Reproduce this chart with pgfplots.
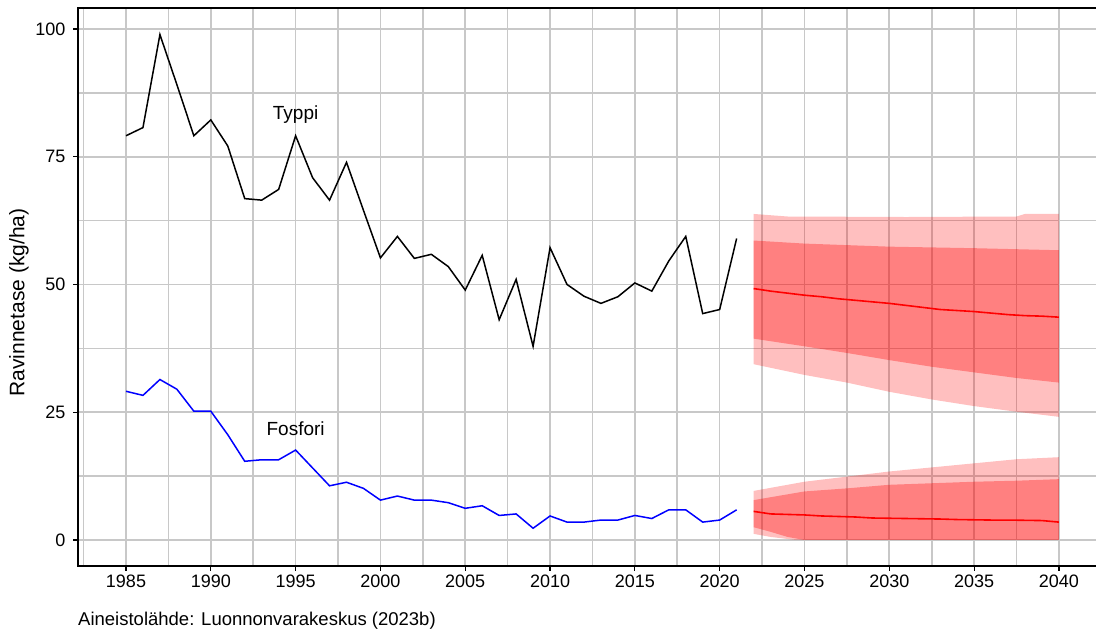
\documentclass[border=0pt]{standalone}
\usepackage{pgfplots}
\pgfplotsset{compat=1.18}
\usepackage{fontspec}
\setmainfont{Liberation Sans}
\definecolor{gridc}{RGB}{200,200,200}
\begin{document}
\begin{tikzpicture}[x=1pt,y=1pt]
\useasboundingbox (0,0) rectangle (1096,630);
\begin{axis}[
  at={(78pt,64pt)}, anchor=south west,
  width=1018pt, height=558pt, scale only axis,
  xmin=1982.17, xmax=2042.19, ymin=-5.09, ymax=104.1,
  axis line style={draw=none},
  xtick={1985,1990,...,2040}, ytick={0,25,50,75,100},
  minor xtick={1982.5,1987.5,...,2037.5}, minor ytick={12.5,37.5,62.5,87.5},
  grid=both,
  major grid style={gridc, line width=1.6pt},
  minor grid style={gridc, line width=1.6pt},
  tick align=outside, major tick length=5pt, minor tick length=0pt,
  xtick pos=bottom, ytick pos=left,
  tick style={black, line width=1.2pt},
  ticklabel style={font=\fontsize{18}{20}\selectfont},
  x tick label style={/pgf/number format/1000 sep={}},
  y tick label style={xshift=-4pt},
  /pgf/number format/assume math mode=true,
  clip=false,
]
% Typpi forecast bands
\addplot[draw=none, fill=red, fill opacity=0.25] coordinates {
 (2022,63.8) (2024,63.3) (2031,63.2) (2037.5,63.3) (2038,63.8) (2040,63.8)
 (2040,24.1) (2037.5,25.1) (2035,26.2) (2032.5,27.5) (2030,29.0) (2027.5,30.8) (2025,32.3) (2022,34.4)};
\addplot[draw=none, fill=red, fill opacity=0.33] coordinates {
 (2022,58.6) (2025,58.0) (2030,57.4) (2035,57.1) (2040,56.7)
 (2040,30.8) (2037.5,31.7) (2035,32.8) (2032.5,33.9) (2030,35.2) (2027.5,36.6) (2025,37.9) (2022,39.4)};
% Fosfori forecast bands
\addplot[draw=none, fill=red, fill opacity=0.25] coordinates {
 (2022,9.6) (2025,11.4) (2027.5,12.4) (2030,13.4) (2032.5,14.2) (2035,15.0) (2037.5,15.8) (2040,16.2)
 (2040,0) (2024.5,0) (2024,0.2) (2023,0.6) (2022,1.2)};
\addplot[draw=none, fill=red, fill opacity=0.33] coordinates {
 (2022,7.8) (2025,9.5) (2027.5,10.1) (2030,10.8) (2032.5,11.1) (2035,11.4) (2037.5,11.6) (2040,11.9)
 (2040,0) (2025,0) (2024,0.6) (2023,1.6) (2022,2.5)};
% forecast means
\addplot[red, line width=1.6pt] coordinates {
 (2022,49.2) (2023,48.7) (2024,48.3) (2025,47.9) (2026,47.6) (2027,47.2) (2028,46.9) (2029,46.6) (2030,46.3)
 (2031,45.9) (2032,45.5) (2033,45.1) (2034,44.9) (2035,44.7) (2036,44.4) (2037,44.1) (2038,43.9) (2039,43.8) (2040,43.6)};
\addplot[red, line width=1.6pt] coordinates {
 (2022,5.6) (2023,5.1) (2024,5.0) (2025,4.9) (2026,4.7) (2027,4.6) (2028,4.5) (2029,4.3) (2030,4.25)
 (2031,4.2) (2032,4.15) (2033,4.1) (2034,4.0) (2035,3.95) (2036,3.9) (2037,3.9) (2038,3.85) (2039,3.8) (2040,3.5)};
% Typpi
\addplot[black, line width=1.5pt] coordinates {
 (1985,79.1) (1986,80.7) (1987,98.9) (1988,89.1) (1989,79.1) (1990,82.2) (1991,77.1) (1992,66.8) (1993,66.5)
 (1994,68.6) (1995,79.1) (1996,70.9) (1997,66.5) (1998,73.9) (1999,64.5) (2000,55.2) (2001,59.4) (2002,55.1)
 (2003,55.9) (2004,53.5) (2005,48.9) (2006,55.7) (2007,43.1) (2008,51.0) (2009,37.9) (2010,57.2) (2011,50.0)
 (2012,47.7) (2013,46.3) (2014,47.6) (2015,50.3) (2016,48.7) (2017,54.6) (2018,59.4) (2019,44.3) (2020,45.1) (2021,59.0)};
% Fosfori
\addplot[blue, line width=1.5pt] coordinates {
 (1985,29.1) (1986,28.3) (1987,31.4) (1988,29.5) (1989,25.2) (1990,25.2) (1991,20.6) (1992,15.4) (1993,15.7)
 (1994,15.7) (1995,17.6) (1996,14.1) (1997,10.6) (1998,11.3) (1999,10.1) (2000,7.8) (2001,8.6) (2002,7.8)
 (2003,7.8) (2004,7.3) (2005,6.2) (2006,6.7) (2007,4.8) (2008,5.1) (2009,2.3) (2010,4.7) (2011,3.5)
 (2012,3.5) (2013,3.9) (2014,3.9) (2015,4.8) (2016,4.2) (2017,5.9) (2018,5.9) (2019,3.5) (2020,3.9) (2021,5.9)};
\node[anchor=base, font=\fontsize{19}{22}\selectfont] at (axis cs:1995,82.2) {Typpi};
\node[anchor=base, font=\fontsize{19}{22}\selectfont] at (axis cs:1995,20.4) {Fosfori};
\draw[black, line width=1.6pt, line cap=rect] (rel axis cs:0,0) -- (rel axis cs:0,1) -- (rel axis cs:1,1);
\draw[black, line width=1.6pt, line cap=rect] (rel axis cs:0,0) -- (rel axis cs:1,0);
\end{axis}
\node[rotate=90, font=\fontsize{21}{24}\selectfont] at (19,303) [yshift=0pt] {};
\node[rotate=90, font=\fontsize{21}{24}\selectfont] at (19,327.5) {Ravinnetase (kg/ha)};
\node[anchor=base west, inner sep=0pt, font=\fontsize{18.5}{22}\selectfont] at (78,4.5) {Aineistolähde: Luonnonvarakeskus (2023b)};
\end{tikzpicture}
\end{document}
